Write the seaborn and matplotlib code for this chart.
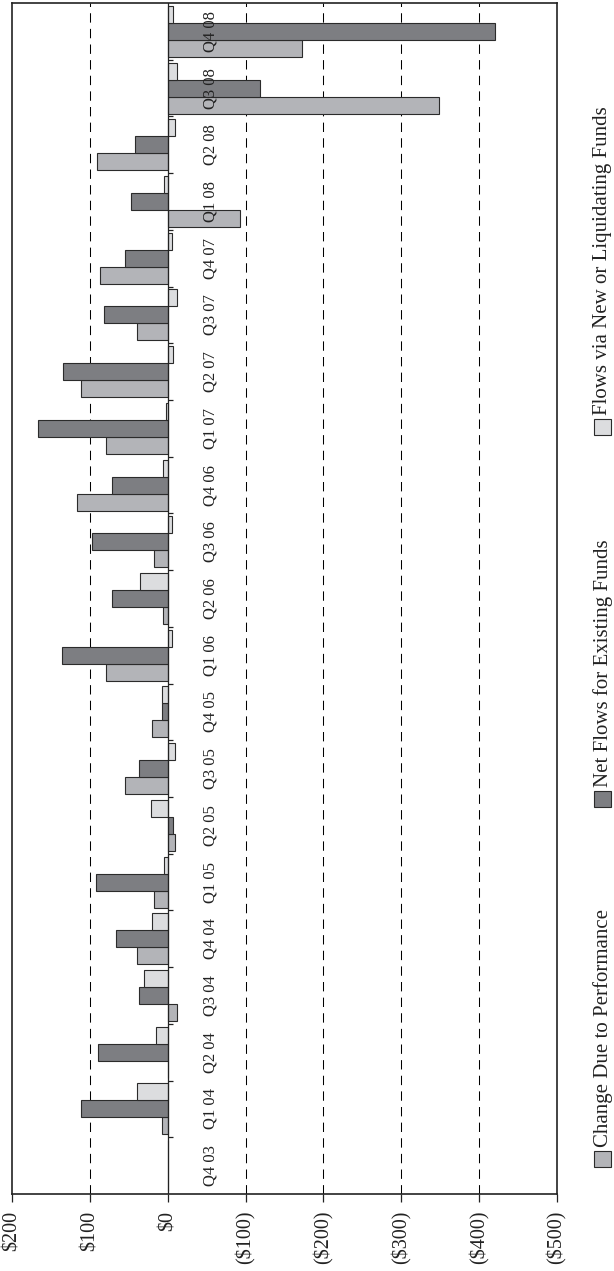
import pandas as pd
import matplotlib
matplotlib.use("Agg")
import matplotlib.pyplot as plt
from matplotlib.patches import Rectangle
import seaborn as sns

sns.set_style("white")
plt.rcParams['font.family'] = ['Liberation Serif', 'DejaVu Serif']

# trimestres, du plus ancien au plus récent
quarters = ['Q4 03', 'Q1 04', 'Q2 04', 'Q3 04', 'Q4 04',
            'Q1 05', 'Q2 05', 'Q3 05', 'Q4 05',
            'Q1 06', 'Q2 06', 'Q3 06', 'Q4 06',
            'Q1 07', 'Q2 07', 'Q3 07', 'Q4 07',
            'Q1 08', 'Q2 08', 'Q3 08', 'Q4 08']

series = ['Change Due to Performance',
          'Net Flows for Existing Funds',
          'Flows via New or Liquidating Funds']

# valeurs ($)
performance = [0, 7.5, 0, -12, 40,
               17, -10, 55, 20,
               79, 5.5, 17, 116,
               79, 112, 40, 87,
               -93, 91, -348, -173]
net_flows = [0, 112, 89, 37, 67,
             92, -6.5, 37, 7.5,
             136, 72, 97, 72,
             166, 134, 82, 55,
             47, 42, -118, -421]
new_funds = [0, 40, 15, 30, 20,
             5, 22, -10, 7.5,
             -5, 35, -5, 5.5,
             2.5, -7, -12, -5,
             5, -10, -12, -6.5]

xticks = [200, 100, 0, -100, -200, -300, -400, -500]
xticklabels = ['$200', '$100', '$0', '($100)', '($200)', '($300)', '($400)', '($500)']
colors = ['#b3b4b8', '#7d7e82', '#dcdddf']

df = pd.DataFrame({
    'quarter': quarters * 3,
    'series': [series[0]] * len(quarters) + [series[1]] * len(quarters) + [series[2]] * len(quarters),
    'value': performance + net_flows + new_funds,
})

W, H = 614, 1271
fig = plt.figure(figsize=(W / 100, H / 100), dpi=100)
ax = fig.add_axes([12 / W, (H - 1194) / H, (557 - 12) / W, (1194 - 3) / H])

sns.barplot(data=df, y='quarter', x='value', hue='series', order=quarters,
            hue_order=series, palette=colors, orient='h', width=0.9,
            saturation=1, errorbar=None, edgecolor='#2b2b2b', linewidth=0.8,
            legend=False, ax=ax, zorder=3)

ax.set_ylim(-0.5, len(quarters) - 0.5)
ax.set_xlim(200, -500)

# lignes pointillées + ligne du zéro
for v in [100, -100, -200, -300, -400]:
    ax.axvline(v, color='black', lw=0.75, ls=(0, (9, 6)), zorder=0)
ax.axvline(0, color='#222222', lw=0.9, zorder=4)
ax.hlines([i + 0.5 for i in range(len(quarters) - 1)], 0, -7,
          color='#222222', lw=0.9, zorder=4)

# étiquettes des trimestres le long du zéro
for i, q in enumerate(quarters):
    ax.text(-55, i, q, rotation=90, ha='center', va='center',
            fontsize=12, color='#222222')

ax.set_yticks([])
ax.set_ylabel('')
ax.set_xlabel('')
ax.set_xticks(xticks)
ax.set_xticklabels(xticklabels, rotation=90, fontsize=14.5, color='#222222')
ax.tick_params(axis='x', direction='out', length=6, width=0.9, pad=6,
               bottom=True, color='#222222')
for s in ax.spines.values():
    s.set_visible(True)
    s.set_color('#222222')
    s.set_linewidth(1.2)

# légende faite à la main (texte tourné)
legend_pos = [1167, 807, 435]  # bas du carré, en pixels depuis le haut
for lab, col, yb in zip(series, colors, legend_pos):
    fig.add_artist(Rectangle((594 / W, 1 - yb / H), 17 / W, 16 / H,
                             transform=fig.transFigure, facecolor=col,
                             edgecolor='#2b2b2b', lw=0.8))
    fig.text(603 / W, 1 - (yb - 20) / H, lab, rotation=90, ha='center',
             va='bottom', fontsize=15, color='#222222')

fig.savefig('out.png', dpi=100)
